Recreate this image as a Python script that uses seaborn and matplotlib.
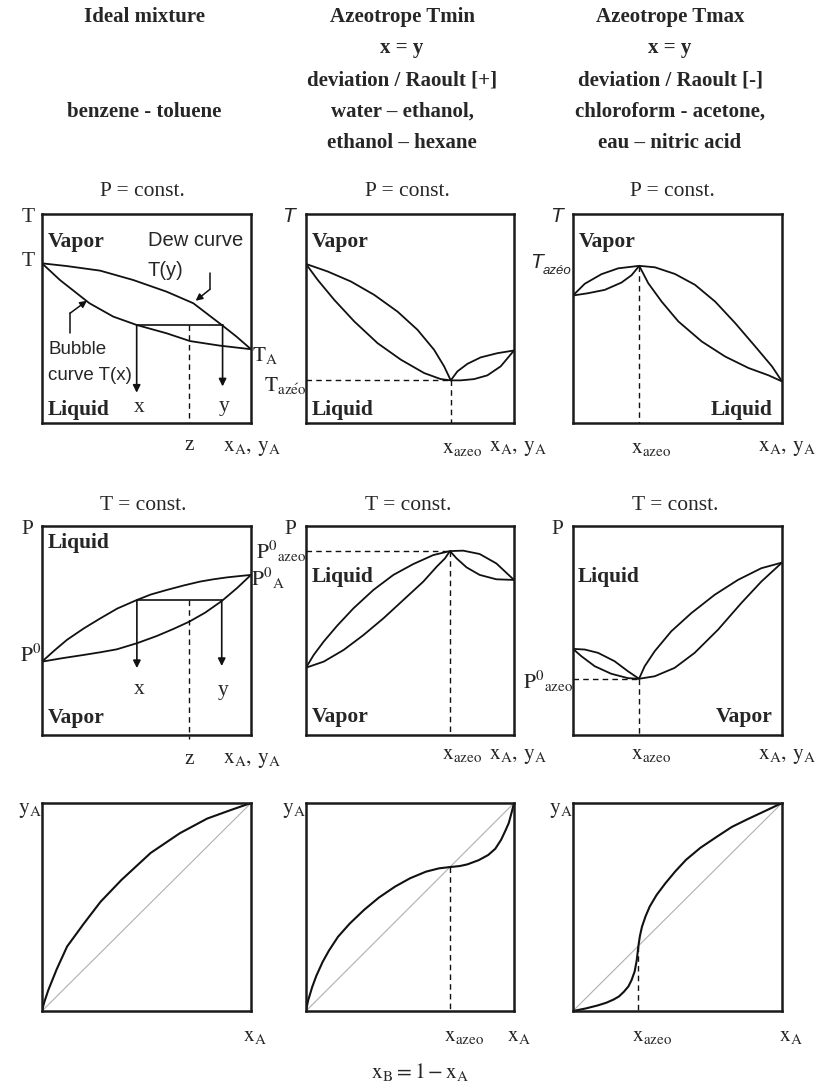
import matplotlib
matplotlib.use("Agg")
import matplotlib.pyplot as plt
import seaborn as sns

sns.set_style("white")
plt.rcParams['font.family'] = ['Liberation Serif', 'DejaVu Serif']
plt.rcParams['mathtext.fontset'] = 'stix'

# ---------------------------------------------------------
# Data (normalised composition / temperature / pressure)
# ---------------------------------------------------------
headers = [
    ["Ideal mixture", "", "", "benzene - toluene", ""],
    ["Azeotrope Tmin", "x = y", "deviation / Raoult [+]", "water \u2013 ethanol,", "ethanol \u2013 hexane"],
    ["Azeotrope Tmax", "x = y", "deviation / Raoult [-]", "chloroform - acetone,", "eau \u2013 nitric acid"],
]

# row 1 : T-x-y, P = const.
ideal_dew_x = [0, 0.118, 0.278, 0.437, 0.597, 0.724, 0.864, 0.931, 1]
ideal_dew_T = [0.764, 0.751, 0.729, 0.684, 0.628, 0.573, 0.466, 0.413, 0.353]
ideal_bub_x = [0, 0.086, 0.227, 0.341, 0.453, 0.597, 0.708, 0.852, 1]
ideal_bub_T = [0.764, 0.684, 0.573, 0.509, 0.469, 0.429, 0.392, 0.370, 0.353]
ideal_tie = {"T": 0.468, "x": 0.453, "y": 0.864, "z": 0.703}

tmin_azeo = (0.696, 0.204)
tmin_dew_x = [0, 0.104, 0.216, 0.328, 0.44, 0.536, 0.616, 0.664, 0.696,
              0.728, 0.776, 0.84, 0.92, 1]
tmin_dew_T = [0.761, 0.725, 0.677, 0.613, 0.533, 0.446, 0.350, 0.271, 0.204,
              0.247, 0.283, 0.314, 0.334, 0.347]
tmin_bub_x = [0, 0.056, 0.136, 0.232, 0.344, 0.456, 0.568, 0.648, 0.696,
              0.744, 0.808, 0.872, 0.936, 0.968, 1]
tmin_bub_T = [0.761, 0.685, 0.589, 0.486, 0.382, 0.303, 0.239, 0.210, 0.204,
              0.204, 0.210, 0.228, 0.271, 0.309, 0.347]

tmax_azeo = (0.317, 0.752)
tmax_dew_x = [0, 0.056, 0.136, 0.216, 0.317, 0.392, 0.488, 0.584, 0.68,
              0.776, 0.872, 0.952, 1]
tmax_dew_T = [0.610, 0.666, 0.712, 0.740, 0.752, 0.745, 0.713, 0.661, 0.581,
              0.478, 0.366, 0.271, 0.199]
tmax_bub_x = [0, 0.072, 0.152, 0.232, 0.28, 0.317, 0.36, 0.424, 0.504,
              0.616, 0.728, 0.84, 0.936, 1]
tmax_bub_T = [0.610, 0.621, 0.637, 0.672, 0.707, 0.752, 0.669, 0.581, 0.486,
              0.390, 0.318, 0.263, 0.228, 0.199]

# row 2 : P-x-y, T = const.
ideal_bubP_x = [0, 0.06, 0.119, 0.2, 0.279, 0.36, 0.454, 0.52, 0.597, 0.68,
                0.756, 0.82, 0.884, 0.94, 1]
ideal_bubP_P = [0.351, 0.405, 0.455, 0.51, 0.558, 0.605, 0.646, 0.672, 0.694,
                0.716, 0.734, 0.745, 0.754, 0.760, 0.766]
ideal_dewP_x = [0, 0.1, 0.199, 0.28, 0.358, 0.454, 0.55, 0.63, 0.704, 0.78,
                0.86, 0.932, 1]
ideal_dewP_P = [0.351, 0.368, 0.383, 0.396, 0.410, 0.439, 0.474, 0.508, 0.542,
                0.585, 0.641, 0.702, 0.766]
ideal_tieP = {"P": 0.644, "x": 0.454, "y": 0.860, "z": 0.704}

pmax_azeo = (0.692, 0.880)
pmax_bub_x = [0, 0.037, 0.085, 0.149, 0.228, 0.324, 0.42, 0.516, 0.612, 0.692,
              0.756, 0.835, 0.915, 1]
pmax_bub_P = [0.322, 0.383, 0.447, 0.522, 0.606, 0.694, 0.766, 0.818, 0.861, 0.880,
              0.882, 0.866, 0.821, 0.742]
pmax_dew_x = [0, 0.085, 0.181, 0.276, 0.372, 0.468, 0.564, 0.628, 0.668, 0.692,
              0.724, 0.772, 0.835, 0.915, 1]
pmax_dew_P = [0.322, 0.351, 0.407, 0.478, 0.558, 0.646, 0.734, 0.805, 0.845, 0.880,
              0.845, 0.802, 0.766, 0.745, 0.742]

pmin_azeo = (0.316, 0.269)
pmin_bub_x = [0, 0.056, 0.120, 0.199, 0.263, 0.316, 0.343, 0.391, 0.470, 0.566,
              0.678, 0.789, 0.901, 1]
pmin_bub_P = [0.412, 0.409, 0.393, 0.353, 0.305, 0.269, 0.329, 0.401, 0.496, 0.583,
              0.671, 0.742, 0.798, 0.825]
pmin_dew_x = [0, 0.040, 0.104, 0.183, 0.263, 0.316, 0.391, 0.486, 0.582, 0.694,
              0.805, 0.901, 1]
pmin_dew_P = [0.412, 0.377, 0.329, 0.293, 0.272, 0.269, 0.281, 0.321, 0.393, 0.504,
              0.631, 0.734, 0.825]

# row 3 : y-x
ideal_yx_x = [0, 0.01, 0.03, 0.05, 0.07, 0.12, 0.20, 0.28, 0.38, 0.52, 0.66, 0.79, 0.90, 1]
ideal_yx_y = [0, 0.04, 0.10, 0.15, 0.20, 0.31, 0.42, 0.525, 0.63, 0.76, 0.855, 0.925, 0.965, 1]
pos_yx_x = [0, 0.01, 0.03, 0.05, 0.08, 0.11, 0.154, 0.21, 0.279, 0.35, 0.428, 0.5,
            0.577, 0.64, 0.692, 0.74, 0.776, 0.83, 0.876, 0.91, 0.938, 0.96, 0.975, 0.99, 1]
pos_yx_y = [0, 0.05, 0.116, 0.17, 0.236, 0.29, 0.357, 0.42, 0.486, 0.545, 0.598, 0.638,
            0.670, 0.686, 0.692, 0.697, 0.705, 0.725, 0.75, 0.78, 0.823, 0.87, 0.904, 0.96, 1]
neg_yx_x = [0, 0.06, 0.119, 0.16, 0.194, 0.22, 0.243, 0.265, 0.28, 0.295, 0.305, 0.313,
            0.32, 0.33, 0.347, 0.367, 0.4, 0.442, 0.49, 0.541, 0.61, 0.69, 0.76, 0.839, 0.92, 1]
neg_yx_y = [0, 0.012, 0.027, 0.04, 0.055, 0.07, 0.092, 0.118, 0.148, 0.19, 0.244, 0.313,
            0.36, 0.405, 0.455, 0.502, 0.558, 0.614, 0.672, 0.727, 0.785, 0.839, 0.885, 0.924, 0.962, 1]

# ---------------------------------------------------------
# Layout in pixels (figure 815 x 1082 at 100 dpi)
# ---------------------------------------------------------
W, H = 815, 1082
COLS = [(42, 251), (306, 514), (573, 782)]
ROWS = [(214, 423), (526, 735), (803, 1011)]

fig = plt.figure(figsize=(W / 100, H / 100), dpi=100)


def make_box(r, c):
    (x0, x1), (y0, y1) = COLS[c], ROWS[r]
    ax = fig.add_axes([x0 / W, 1 - y1 / H, (x1 - x0) / W, (y1 - y0) / H])
    ax.set_xlim(0, 1)
    ax.set_ylim(0, 1)
    ax.set_xticks([])
    ax.set_yticks([])
    for s in ax.spines.values():
        s.set_visible(True)
        s.set_color('#1a1a1a')
        s.set_linewidth(1.8)
    return ax


def curve(ax, xs, ys, lw=1.3):
    sns.lineplot(x=xs, y=ys, ax=ax, sort=False, estimator=None,
                 color='#111111', linewidth=lw, legend=False)


def dashed(ax, xs, ys):
    ax.plot(xs, ys, ls=(0, (4, 3)), color='#111111', lw=1.0, clip_on=False)


def arrow(ax, x, y0, y1):
    ax.annotate('', xy=(x, y1), xytext=(x, y0),
                arrowprops=dict(arrowstyle='-|>', color='#111111', lw=1.2,
                                mutation_scale=11, shrinkA=0, shrinkB=0))


def txt(px, py, s, size=15, ha='center', va='center', **kw):
    fig.text(px / W, 1 - py / H, s, fontsize=size, ha=ha, va=va, **kw)


def bold(px, py, s, ha='left'):
    txt(px, py, s, size=15.5, ha=ha, fontweight='bold')


def sans(px, py, s, ha='left', size=13.5, style='normal'):
    txt(px, py, s, size=size, ha=ha, family=['Liberation Sans', 'DejaVu Sans'], style=style)


XAYA = r'$\mathrm{x_{A},\,y_{A}}$'
XAZ = r'$\mathrm{x_{azeo}}$'

# ---------------------------------------------------------
# Headers
# ---------------------------------------------------------
head_cx = [144, 402, 670]
head_y = [17, 48.5, 80, 112, 143.5]
for cx, lines in zip(head_cx, headers):
    for yy, line in zip(head_y, lines):
        if line:
            txt(cx, yy, line, size=15, fontweight='bold')

# ---------------------------------------------------------
# Row 1 : T-x-y
# ---------------------------------------------------------
for cx in [142, 407, 672]:
    txt(cx, 191, "P = const.", size=15.5)

ax = make_box(0, 0)
curve(ax, ideal_dew_x, ideal_dew_T)
curve(ax, ideal_bub_x, ideal_bub_T)
curve(ax, [ideal_tie["x"], ideal_tie["y"]], [ideal_tie["T"], ideal_tie["T"]], lw=1.2)
arrow(ax, ideal_tie["x"], ideal_tie["T"], 0.145)
arrow(ax, ideal_tie["y"], ideal_tie["T"], 0.175)
dashed(ax, [ideal_tie["z"], ideal_tie["z"]], [ideal_tie["T"], 0])
ax.plot([0.804, 0.804], [0.716, 0.640], color='#111111', lw=1.1)
ax.annotate('', xy=(0.735, 0.585), xytext=(0.804, 0.640),
            arrowprops=dict(arrowstyle='-|>', color='#111111', lw=1.1,
                            mutation_scale=10, shrinkA=0, shrinkB=0))
ax.plot([0.134, 0.134], [0.429, 0.525], color='#111111', lw=1.1)
ax.annotate('', xy=(0.215, 0.585), xytext=(0.134, 0.525),
            arrowprops=dict(arrowstyle='-|>', color='#111111', lw=1.1,
                            mutation_scale=10, shrinkA=0, shrinkB=0))
txt(28, 218, "T", size=15.5)
txt(28, 262, "T", size=15.5)
bold(48, 242, "Vapor")
bold(48, 410, "Liquid")
sans(148, 241, "Dew curve", size=14.5)
sans(148, 271, "T(y)", size=14.5)
sans(48, 350, "Bubble")
sans(48, 375, "curve T(x)")
txt(139, 407, "x", size=15.5)
txt(224, 407, "y", size=15.5)
txt(189, 446, "z", size=15.5)
txt(223, 448, XAYA, size=15.5, ha='left')
txt(252, 356, r'$\mathrm{T_{A}}$', size=15.5, ha='left')

ax = make_box(0, 1)
curve(ax, tmin_dew_x, tmin_dew_T)
curve(ax, tmin_bub_x, tmin_bub_T)
dashed(ax, [0, tmin_azeo[0]], [tmin_azeo[1], tmin_azeo[1]])
dashed(ax, [tmin_azeo[0], tmin_azeo[0]], [tmin_azeo[1], 0])
sans(289, 217, "T", ha='center', size=15, style='italic')
bold(312, 242, "Vapor")
bold(312, 410, "Liquid")
txt(307, 385, r'$\mathrm{T_{az\acute{e}o}}$', size=15.5, ha='right')
txt(462, 448, XAZ, size=15.5)
txt(489, 448, XAYA, size=15.5, ha='left')

ax = make_box(0, 2)
curve(ax, tmax_dew_x, tmax_dew_T)
curve(ax, tmax_bub_x, tmax_bub_T)
dashed(ax, [tmax_azeo[0], tmax_azeo[0]], [tmax_azeo[1], 0])
sans(556, 217, "T", ha='center', size=15, style='italic')
sans(543, 263, "T", ha='right', size=15, style='italic')
sans(543, 271, "az\u00e9o", ha='left', size=9.5, style='italic')
bold(579, 242, "Vapor")
bold(773, 410, "Liquid", ha='right')
txt(651, 448, XAZ, size=15.5)
txt(758, 448, XAYA, size=15.5, ha='left')

# ---------------------------------------------------------
# Row 2 : P-x-y
# ---------------------------------------------------------
for cx in [143, 408, 675]:
    txt(cx, 505, "T = const.", size=15.5)

ax = make_box(1, 0)
curve(ax, ideal_bubP_x, ideal_bubP_P)
curve(ax, ideal_dewP_x, ideal_dewP_P)
curve(ax, [ideal_tieP["x"], ideal_tieP["y"]], [ideal_tieP["P"], ideal_tieP["P"]], lw=1.2)
arrow(ax, ideal_tieP["x"], ideal_tieP["P"], 0.32)
arrow(ax, ideal_tieP["y"], ideal_tieP["P"], 0.33)
dashed(ax, [ideal_tieP["z"], ideal_tieP["z"]], [ideal_tieP["P"], -0.02])
txt(27, 529, "P", size=15.5)
bold(48, 543, "Liquid")
bold(48, 718, "Vapor")
txt(251, 578, r'$\mathrm{P^{0}{}_{A}}$', size=15.5, ha='left')
txt(41, 656, r'$\mathrm{P^{0}}$', size=15.5, ha='right')
txt(139, 690, "x", size=15.5)
txt(223, 690, "y", size=15.5)
txt(189, 759, "z", size=15.5)
txt(223, 760, XAYA, size=15.5, ha='left')

ax = make_box(1, 1)
curve(ax, pmax_bub_x, pmax_bub_P)
curve(ax, pmax_dew_x, pmax_dew_P)
dashed(ax, [0, pmax_azeo[0]], [pmax_azeo[1], pmax_azeo[1]])
dashed(ax, [pmax_azeo[0], pmax_azeo[0]], [pmax_azeo[1], 0])
txt(290, 529, "P", size=15.5)
txt(306, 551, r'$\mathrm{P^{0}{}_{azeo}}$', size=15.5, ha='right')
bold(312, 577, "Liquid")
bold(312, 717, "Vapor")
txt(462, 755, XAZ, size=15.5)
txt(489, 756, XAYA, size=15.5, ha='left')

ax = make_box(1, 2)
curve(ax, pmin_bub_x, pmin_bub_P)
curve(ax, pmin_dew_x, pmin_dew_P)
dashed(ax, [0, pmin_azeo[0]], [pmin_azeo[1], pmin_azeo[1]])
dashed(ax, [pmin_azeo[0], pmin_azeo[0]], [pmin_azeo[1], 0])
txt(557, 529, "P", size=15.5)
txt(573, 681, r'$\mathrm{P^{0}{}_{azeo}}$', size=15.5, ha='right')
bold(578, 577, "Liquid")
bold(773, 717, "Vapor", ha='right')
txt(651, 755, XAZ, size=15.5)
txt(758, 756, XAYA, size=15.5, ha='left')

# ---------------------------------------------------------
# Row 3 : y-x
# ---------------------------------------------------------
yx_sets = [(ideal_yx_x, ideal_yx_y, None),
           (pos_yx_x, pos_yx_y, 0.692),
           (neg_yx_x, neg_yx_y, 0.313)]
xa_cx = [255, 519, 791]
for c, (xs, ys, xaz) in enumerate(yx_sets):
    ax = make_box(2, c)
    ax.plot([0, 1], [0, 1], color='#b0b0b0', lw=0.8)
    curve(ax, xs, ys, lw=1.5)
    if xaz is not None:
        dashed(ax, [xaz, xaz], [xaz, 0])
        txt(COLS[c][0] + xaz * (COLS[c][1] - COLS[c][0]) + 14, 1036, XAZ, size=15.5)
    txt(COLS[c][0], 811, r'$\mathrm{y_{A}}$', size=15.5, ha='right')
    txt(xa_cx[c], 1036, r'$\mathrm{x_{A}}$', size=15.5)

txt(420, 1072, r'$\mathrm{x_{B} = 1 - x_{A}}$', size=15.5)

fig.savefig("out.png", dpi=100, facecolor='white')
